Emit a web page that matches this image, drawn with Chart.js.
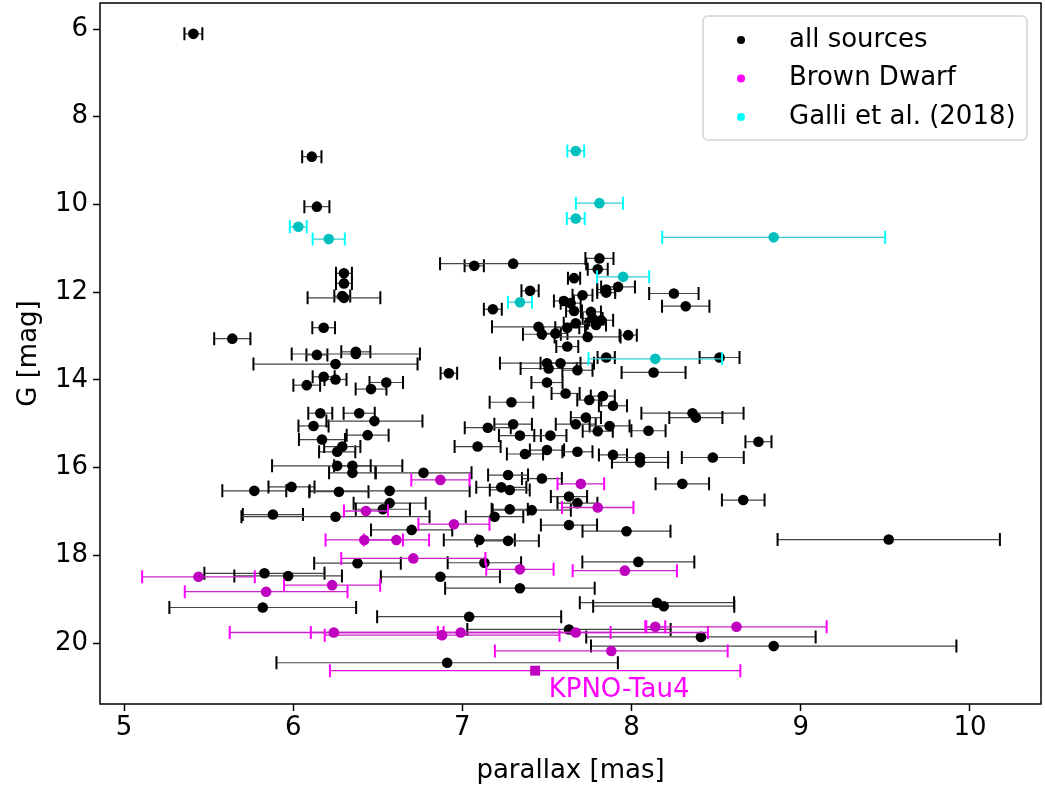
<!DOCTYPE html>
<html>
<head>
<meta charset="utf-8">
<script src="https://cdn.jsdelivr.net/npm/chart.js@4.4.0/dist/chart.umd.min.js"></script>
<style>
  html, body { margin: 0; padding: 0; background: #fff; }
  #wrap { width: 1045px; height: 789px; }
</style>
</head>
<body>
<div id="wrap"><canvas id="chart"></canvas></div>
<script>
// all sources: parallax [mas], G [mag], parallax error [mas]
const allPlx = [5.41, 6.11, 6.14, 6.30, 6.30, 6.29, 6.30, 6.18, 5.64, 6.14, 6.37, 6.37, 6.25, 6.18, 6.25, 6.08,
  6.92, 6.55, 6.46, 6.16, 6.12, 6.39, 6.48, 6.17, 6.44, 6.26, 6.29, 6.26, 6.35, 6.35, 5.77, 5.99, 6.27, 6.57,
  5.88, 6.25, 6.57, 6.53, 6.70, 7.10, 7.27, 6.38, 7.13, 6.87, 7.34, 5.83, 5.97, 5.82, 7.04, 6.91, 7.23, 7.28,
  7.19, 7.28, 6.77, 7.07, 7.30, 7.81, 7.80, 7.66, 7.40, 7.18, 7.60, 7.64, 7.71, 7.66, 7.85, 7.85, 7.92, 8.25,
  8.32, 7.76, 7.77, 7.79, 7.82, 7.45, 7.47, 7.55, 7.62, 7.67, 7.74, 7.98, 7.62, 7.50, 7.51, 7.58, 7.68, 7.85,
  8.52, 8.13, 7.50, 7.61, 7.29, 7.75, 7.83, 7.89, 8.36, 8.38, 7.67, 7.30, 7.15, 7.34, 7.52, 7.73, 7.87, 7.80,
  8.10, 8.75, 7.09, 7.37, 7.50, 7.68, 7.89, 8.48, 8.05, 8.05, 8.30, 8.66, 7.63, 7.68, 7.41, 7.63, 7.97, 9.52,
  8.04, 8.15, 8.19, 7.63, 8.41, 8.84, 7.47, 7.27];
const allG = [6.11, 8.91, 10.05, 11.57, 11.80, 12.09, 12.13, 12.81, 13.06, 13.43, 13.36, 13.41, 13.64, 13.93, 13.99, 14.12,
  13.85, 14.06, 14.21, 14.76, 15.05, 14.76, 14.94, 15.36, 15.26, 15.64, 15.52, 15.96, 15.96, 16.12, 16.53, 16.44, 16.55, 16.53,
  17.07, 17.12, 16.81, 16.95, 17.42, 17.65, 17.67, 18.18, 18.17, 18.49, 18.75, 18.41, 18.47, 19.19, 19.40, 20.45, 16.45, 16.51,
  17.12, 16.95, 16.12, 11.40, 11.35, 11.23, 11.48, 11.68, 11.97, 12.39, 12.20, 12.25, 12.07, 12.43, 11.94, 12.01, 11.88, 12.03,
  12.32, 12.45, 12.60, 12.75, 12.64, 12.79, 12.96, 12.94, 12.81, 12.71, 13.02, 12.98, 13.24, 13.62, 13.74, 13.62, 13.78, 13.49,
  13.49, 13.83, 14.06, 14.31, 14.51, 14.46, 14.37, 14.59, 14.76, 14.86, 15.01, 15.01, 15.09, 15.27, 15.27, 14.86, 15.05, 15.17,
  15.16, 15.41, 15.52, 15.69, 15.60, 15.64, 15.71, 15.77, 15.77, 15.88, 16.37, 16.74, 16.66, 16.81, 16.97, 17.31, 17.45, 17.64,
  18.15, 19.08, 19.16, 19.69, 19.86, 20.07, 16.25, 16.17];
const allErr = [0.053, 0.057, 0.074, 0.047, 0.047, 0.047, 0.215, 0.067, 0.107, 0.062, 0.086, 0.379, 0.485, 0.065, 0.065, 0.079,
  0.049, 0.099, 0.091, 0.071, 0.089, 0.092, 0.284, 0.136, 0.124, 0.107, 0.107, 0.385, 0.108, 0.138, 0.189, 0.136, 0.175, 0.473,
  0.178, 0.556, 0.213, 0.160, 0.240, 0.210, 0.182, 0.256, 0.217, 0.352, 0.442, 0.355, 0.318, 0.552, 0.544, 1.009, 0.148, 0.118,
  0.170, 0.107, 0.284, 0.057, 0.432, 0.083, 0.059, 0.036, 0.051, 0.053, 0.059, 0.059, 0.059, 0.047, 0.053, 0.053, 0.100, 0.146,
  0.140, 0.059, 0.059, 0.059, 0.071, 0.275, 0.112, 0.071, 0.071, 0.071, 0.195, 0.051, 0.065, 0.278, 0.166, 0.118, 0.089, 0.051,
  0.118, 0.189, 0.092, 0.083, 0.129, 0.071, 0.071, 0.083, 0.302, 0.157, 0.118, 0.111, 0.136, 0.124, 0.095, 0.089, 0.118, 0.089,
  0.101, 0.077, 0.136, 0.107, 0.101, 0.089, 0.083, 0.183, 0.166, 0.166, 0.158, 0.126, 0.107, 0.118, 0.231, 0.166, 0.260, 0.657,
  0.331, 0.456, 0.417, 0.601, 0.678, 1.080, 0.118, 0.118];

// brown dwarfs
const bdPlx = [6.87, 6.43, 6.95, 6.42, 6.61, 6.71, 7.34, 7.96, 6.23, 5.84, 5.44, 6.24, 6.88, 6.99, 7.67, 8.14, 8.62, 7.88, 7.80, 7.70];
const bdG = [16.28, 16.99, 17.29, 17.65, 17.65, 18.07, 18.32, 18.35, 18.68, 18.83, 18.49, 19.76, 19.82, 19.76, 19.76, 19.63, 19.63, 20.18, 16.91, 16.37];
const bdErr = [0.172, 0.130, 0.210, 0.229, 0.193, 0.426, 0.199, 0.308, 0.284, 0.481, 0.333, 0.615, 0.694, 0.886, 0.781, 0.059, 0.533, 0.688, 0.211, 0.138];

// Galli et al. (2018)
const galliPlx = [7.67, 7.81, 7.67, 6.03, 6.21, 8.84, 7.34, 7.95, 8.14];
const galliG = [8.78, 9.97, 10.32, 10.51, 10.79, 10.75, 12.23, 11.65, 13.52];
const galliErr = [0.050, 0.139, 0.053, 0.050, 0.095, 0.659, 0.071, 0.154, 0.395];

// KPNO-Tau4
const kpnoPlx = [7.43];
const kpnoG = [20.63];
const kpnoErr = [1.213];

const xTicks = [5, 6, 7, 8, 9, 10];
const yTicks = [6, 8, 10, 12, 14, 16, 18, 20];

const FONT = "'DejaVu Sans', sans-serif";
const FS = 26;

function pts(xs, ys, es) {
  return xs.map((x, i) => ({ x: x, y: ys[i], err: es[i] }));
}

// horizontal error bars, drawn just before each dataset's markers
const errorBars = {
  id: 'errorBars',
  beforeDatasetDraw(chart, args) {
    const ds = chart.data.datasets[args.index];
    if (!ds.errStyle) return;
    const ctx = chart.ctx, xs = chart.scales.x, ys = chart.scales.y;
    const st = ds.errStyle;
    ctx.save();
    ds.data.forEach(d => {
      const y = ys.getPixelForValue(d.y);
      const x0 = xs.getPixelForValue(d.x - d.err);
      const x1 = xs.getPixelForValue(d.x + d.err);
      ctx.strokeStyle = st.line;
      ctx.lineWidth = st.width;
      ctx.beginPath();
      ctx.moveTo(x0, y); ctx.lineTo(x1, y);
      ctx.stroke();
      ctx.strokeStyle = st.cap;
      ctx.lineWidth = 2;
      ctx.beginPath();
      ctx.moveTo(x0, y - 6.5); ctx.lineTo(x0, y + 6.5);
      ctx.moveTo(x1, y - 6.5); ctx.lineTo(x1, y + 6.5);
      ctx.stroke();
    });
    ctx.restore();
  }
};

// axes frame, legend box and the KPNO-Tau4 label
const decorations = {
  id: 'decorations',
  afterDraw(chart) {
    const ctx = chart.ctx, a = chart.chartArea;
    const xs = chart.scales.x, ys = chart.scales.y;
    ctx.save();
    ctx.strokeStyle = '#000';
    ctx.lineWidth = 1.5;
    ctx.strokeRect(a.left, a.top, a.right - a.left, a.bottom - a.top);

    ctx.fillStyle = '#ff00ff';
    ctx.font = FS + 'px ' + FONT;
    ctx.textAlign = 'left';
    ctx.textBaseline = 'middle';
    ctx.fillText('KPNO-Tau4', xs.getPixelForValue(7.51), ys.getPixelForValue(21.07));

    // legend
    const bx = a.right - 338, by = a.top + 13, bw = 324, bh = 124;
    ctx.fillStyle = 'rgba(255,255,255,0.8)';
    ctx.strokeStyle = '#d4d4d4';
    ctx.lineWidth = 1.5;
    ctx.beginPath();
    ctx.roundRect(bx, by, bw, bh, 5);
    ctx.fill();
    ctx.stroke();
    const entries = [['all sources', '#000000'], ['Brown Dwarf', '#ff00ff'], ['Galli et al. (2018)', '#00ffff']];
    entries.forEach((e, i) => {
      const cy = by + 24 + i * 38.5;
      ctx.fillStyle = e[1];
      ctx.beginPath();
      ctx.arc(bx + 38, cy, 4, 0, Math.PI * 2);
      ctx.fill();
      ctx.fillStyle = '#000';
      ctx.font = FS + 'px ' + FONT;
      ctx.fillText(e[0], bx + 86, cy);
    });
    ctx.restore();
  }
};

new Chart(document.getElementById('chart'), {
  type: 'scatter',
  data: {
    datasets: [
      { label: 'KPNO-Tau4', data: pts(kpnoPlx, kpnoG, kpnoErr), order: 0,
        pointStyle: 'rect', pointRadius: 7, backgroundColor: '#bf00bf', borderWidth: 0,
        errStyle: { line: '#dd11dd', cap: '#ff00ff', width: 1.3 } },
      { label: 'Galli et al. (2018)', data: pts(galliPlx, galliG, galliErr), order: 1,
        pointRadius: 5.3, backgroundColor: '#00bfbf', borderWidth: 0,
        errStyle: { line: '#33cccc', cap: '#00ffff', width: 1.3 } },
      { label: 'Brown Dwarf', data: pts(bdPlx, bdG, bdErr), order: 2,
        pointRadius: 5.3, backgroundColor: '#bf00bf', borderWidth: 0,
        errStyle: { line: '#cc22cc', cap: '#ff00ff', width: 1.3 } },
      { label: 'all sources', data: pts(allPlx, allG, allErr), order: 3,
        pointRadius: 5.3, backgroundColor: '#000', borderWidth: 0,
        errStyle: { line: '#444', cap: '#000', width: 1.2 } }
    ]
  },
  options: {
    responsive: true,
    maintainAspectRatio: false,
    animation: false,
    layout: { autoPadding: false, padding: { left: 0, right: 4, top: 3, bottom: 0 } },
    plugins: { legend: { display: false }, tooltip: { enabled: false } },
    scales: {
      x: {
        type: 'linear', min: 4.858, max: 10.42,
        afterFit(s) { s.height = 85; s.paddingLeft = 0; s.paddingRight = 0; },
        afterBuildTicks(s) { s.ticks = xTicks.map(v => ({ value: v })); },
        grid: { drawOnChartArea: false, drawTicks: true, tickLength: 7, tickWidth: 1.5, tickColor: '#000' },
        border: { display: false },
        ticks: { color: '#000', font: { family: FONT, size: FS }, padding: 2, maxRotation: 0 },
        title: { display: true, text: 'parallax [mas]', color: '#000', font: { family: FONT, size: FS },
                 padding: { top: 2, bottom: 2 } }
      },
      y: {
        type: 'linear', min: 5.407, max: 21.39, reverse: true,
        afterFit(s) { s.width = 100; s.paddingTop = 0; s.paddingBottom = 0; },
        afterBuildTicks(s) { s.ticks = yTicks.map(v => ({ value: v })); },
        grid: { drawOnChartArea: false, drawTicks: true, tickLength: 7, tickWidth: 1.5, tickColor: '#000' },
        border: { display: false },
        ticks: { color: '#000', font: { family: FONT, size: FS }, padding: 5 },
        title: { display: true, text: 'G [mag]', color: '#000', font: { family: FONT, size: FS },
                 padding: { top: 14, bottom: 14 } }
      }
    }
  },
  plugins: [errorBars, decorations]
});
</script>
</body>
</html>
